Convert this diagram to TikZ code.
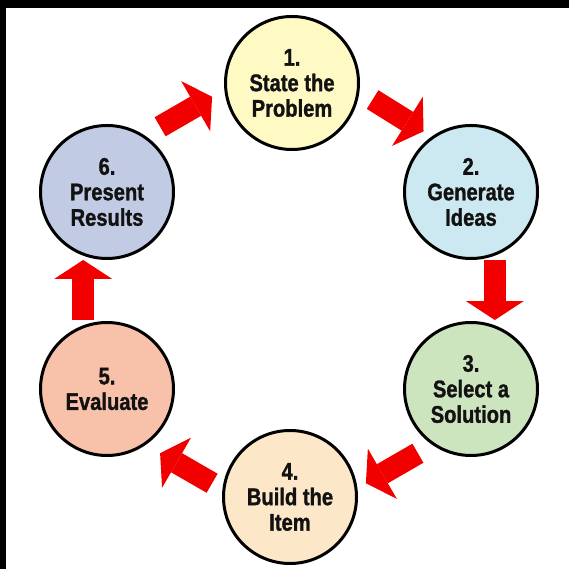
\documentclass[tikz,border=0pt]{standalone}
\usepackage{fontspec}
\setmainfont{Liberation Sans}[FakeStretch=0.84, BoldFeatures={FakeBold=1.2}]
\usetikzlibrary{arrows.meta,calc}

% stage fills
\definecolor{fillA}{RGB}{255,249,196}
\definecolor{fillB}{RGB}{204,232,241}
\definecolor{fillC}{RGB}{205,229,190}
\definecolor{fillD}{RGB}{252,232,201}
\definecolor{fillE}{RGB}{248,193,170}
\definecolor{fillF}{RGB}{193,204,228}
\definecolor{arrowred}{RGB}{242,0,0}
\definecolor{inkblack}{RGB}{18,18,18}

\begin{document}
\begin{tikzpicture}[x=1pt,y=1pt,
  stage/.style={circle, draw=black, line width=3pt, minimum size=133pt,
    inner sep=0pt, align=center, text=inkblack,
    font=\bfseries\fontsize{24}{25.5}\selectfont},
  flow/.style={draw=arrowred, line width=22pt,
    -{Triangle[length=19pt,width=58pt,line width=0pt]}}
]
% frame: dark band on the top and left edges
\fill[black] (0,0) rectangle (569,569);
\fill[white] (6,0) rectangle (569,561);
\useasboundingbox (0,0) rectangle (569,569);

\coordinate (ring) at (289,279);

% the six stages of the cycle
\node[stage, fill=fillA] (s1) at (292,486) {1.\\State the\\Problem};
\node[stage, fill=fillB] (s2) at (471,377) {2.\\Generate\\Ideas};
\node[stage, fill=fillC] (s3) at (471,180) {3.\\Select a\\Solution};
\node[stage, fill=fillD] (s4) at (290,72)  {4.\\Build the\\Item};
\node[stage, fill=fillE] (s5) at (107,180) {5.\\Evaluate};
\node[stage, fill=fillF] (s6) at (107,377) {6.\\Present\\Results};

% arrow ends, placed on a ring between the stages
\foreach \n/\a in {12/58, 23/0, 34/-60, 45/-120, 56/180, 61/120} {
  \coordinate (t\n) at ($(ring)+(\a+8.3:208)$);
  \coordinate (h\n) at ($(ring)+(\a-8.3:208)$);
}

\draw[flow] (t12) -- (h12);
\draw[flow] (t23) -- (h23);
\draw[flow] (t34) -- (h34);
\draw[flow] (t45) -- (h45);
\draw[flow] (t56) -- (h56);
\draw[flow] (t61) -- (h61);
\end{tikzpicture}
\end{document}
